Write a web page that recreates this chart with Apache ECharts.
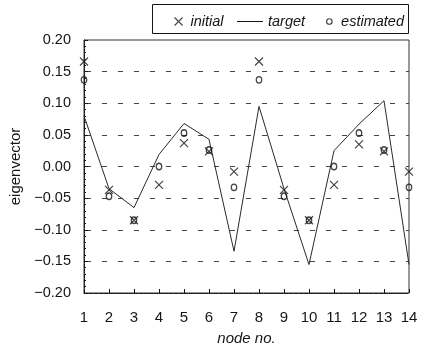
<!DOCTYPE html>
<html>
<head>
<meta charset="utf-8">
<script src="https://cdn.jsdelivr.net/npm/echarts@6/dist/echarts.min.js"></script>
<style>
  html, body { margin: 0; padding: 0; background: #fff; }
  #chart { width: 427px; height: 357px; }
</style>
</head>
<body>
<div id="chart"></div>
<script>
// Eigenvector components per node: initial guess, target and estimate
const nodes = [1, 2, 3, 4, 5, 6, 7, 8, 9, 10, 11, 12, 13, 14];
const initialValues   = [0.166, -0.037, -0.085, -0.029, 0.037, 0.024, -0.008,
                         0.166, -0.037, -0.085, -0.029, 0.035, 0.024, -0.008];
const targetValues    = [0.080, -0.035, -0.065, 0.019, 0.068, 0.043, -0.134,
                         0.095, -0.035, -0.155, 0.025, 0.067, 0.104, -0.155];
const estimatedValues = [0.137, -0.047, -0.085, 0.000, 0.053, 0.026, -0.033,
                         0.137, -0.047, -0.085, 0.000, 0.053, 0.026, -0.033];
const yTickValues = [-0.20, -0.15, -0.10, -0.05, 0.00, 0.05, 0.10, 0.15, 0.20];

const pair = (ys) => nodes.map((n, i) => [n, ys[i]]);
const ink = '#151515';
const font = '"Liberation Sans", Arial, sans-serif';
const crossPath = 'path://M0,0L10,10M10,0L0,10';

const fmtY = (v) => {
  const s = Math.abs(v).toFixed(2);
  return v < -1e-9 ? '\u2212' + s : s;
};

const frameLine = { show: true, onZero: false, lineStyle: { color: ink, width: 1, type: [1.5, 1] } };
const legendText = (padLeft) => ({
  fontFamily: font, fontSize: 14.5, fontStyle: 'italic', color: ink, padding: [0, 0, 0, padLeft]
});

const chart = echarts.init(document.getElementById('chart'), null, { renderer: 'canvas' });
chart.setOption({
  backgroundColor: '#fff',
  animation: false,
  textStyle: { fontFamily: font, color: ink },
  grid: {
    left: 81, right: 18, top: 40, bottom: 64, containLabel: false,
    show: true, borderColor: '#333', borderWidth: 1, backgroundColor: 'rgba(0,0,0,0)'
  },
  graphic: [{
    type: 'rect',
    shape: { x: 152.5, y: 4.5, width: 256, height: 29 },
    style: { fill: 'none', stroke: ink, lineWidth: 1 },
    z: 1
  }],
  legend: [
    {
      data: [{ name: 'initial', icon: crossPath }],
      left: 169, top: 9, itemWidth: 8, itemHeight: 8,
      itemStyle: { color: 'rgba(0,0,0,0)', borderColor: ink, borderWidth: 1.1 },
      textStyle: legendText(3), selectedMode: false
    },
    {
      data: [{ name: 'target', icon: 'rect' }],
      left: 232, top: 9, itemWidth: 26, itemHeight: 1,
      itemStyle: { color: ink, borderWidth: 0 },
      lineStyle: { width: 0 },
      textStyle: legendText(0), selectedMode: false
    },
    {
      data: [{ name: 'estimated', icon: 'circle' }],
      left: 321, top: 9, itemWidth: 5.5, itemHeight: 6,
      itemStyle: { color: 'rgba(255,255,255,0)', borderColor: ink, borderWidth: 1.2 },
      textStyle: legendText(4), selectedMode: false
    }
  ],
  xAxis: {
    type: 'value', min: 1, max: 14, interval: 1, position: 'bottom',
    name: 'node no.', nameLocation: 'middle', nameGap: 38,
    nameTextStyle: { fontFamily: font, fontSize: 15, fontStyle: 'italic', color: ink },
    axisLine: frameLine,
    axisTick: { show: true, inside: true, length: 4, lineStyle: { color: ink, width: 1 } },
    axisLabel: { margin: 17, fontSize: 15, color: ink, fontFamily: font,
                 formatter: (v) => String(Math.round(v)) },
    splitLine: { show: false }
  },
  yAxis: {
    type: 'value', min: yTickValues[0], max: yTickValues[yTickValues.length - 1],
    interval: 0.05, position: 'left',
    name: 'eigenvector', nameLocation: 'middle', nameGap: 61,
    nameTextStyle: { fontFamily: font, fontSize: 15, color: ink },
    axisLine: frameLine,
    axisTick: { show: true, inside: true, length: 4, lineStyle: { color: ink, width: 1 } },
    minorTick: { show: true, splitNumber: 5, length: 2, lineStyle: { color: ink, width: 1 } },
    axisLabel: { margin: 13, fontSize: 14.5, color: ink, fontFamily: font, formatter: fmtY },
    splitLine: {
      show: true, showMinLine: false, showMaxLine: false,
      lineStyle: { color: '#444', width: 1, type: [5, 11], dashOffset: -2 }
    }
  },
  series: [
    {
      name: 'initial', type: 'scatter', data: pair(initialValues),
      symbol: crossPath, symbolSize: 8, clip: false, z: 4,
      itemStyle: { color: 'rgba(0,0,0,0)', borderColor: ink, borderWidth: 1.2 }
    },
    {
      name: 'target', type: 'line', data: pair(targetValues),
      symbol: 'none', clip: false, z: 3,
      lineStyle: { color: '#2a2a2a', width: 1 },
      itemStyle: { color: '#2a2a2a' }
    },
    {
      name: 'estimated', type: 'scatter', data: pair(estimatedValues),
      symbol: 'circle', symbolSize: [5.5, 6.5], clip: false, z: 5,
      itemStyle: { color: 'rgba(255,255,255,0)', borderColor: ink, borderWidth: 1.3 }
    }
  ]
});
</script>
</body>
</html>
